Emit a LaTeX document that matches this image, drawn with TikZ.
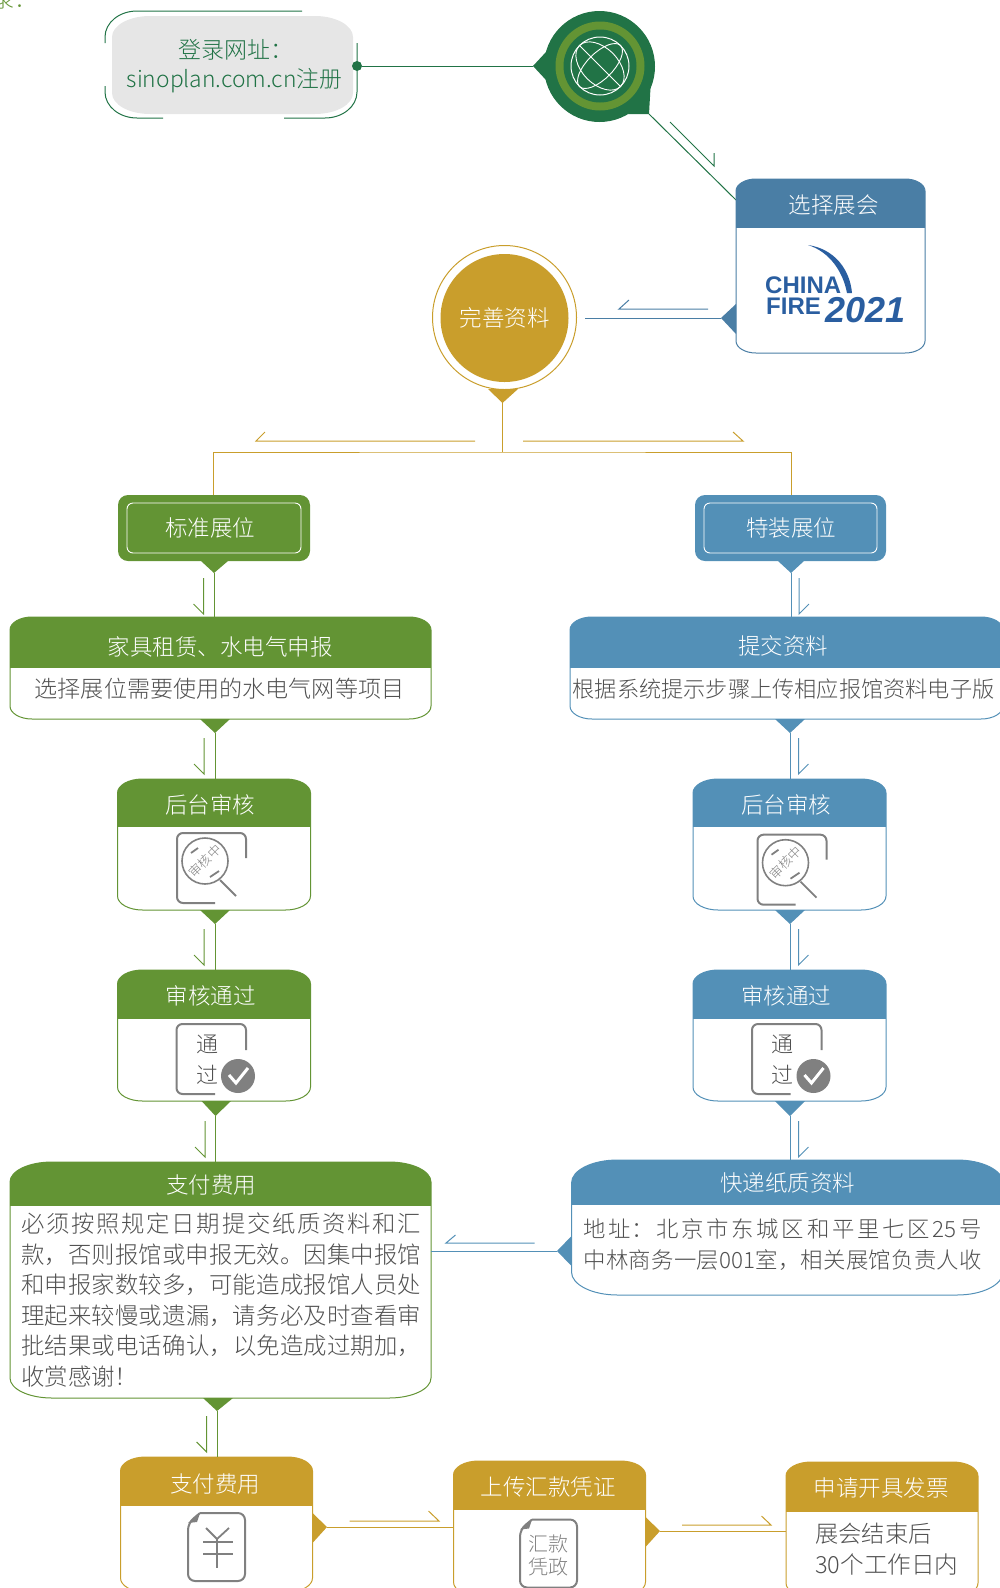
\documentclass[tikz,border=0pt]{standalone}
\usepackage{fontspec}
\setmainfont{Noto Sans CJK SC Light}
\newfontfamily\logofont{Liberation Sans}
\usetikzlibrary{positioning}
\XeTeXlinebreaklocale "zh"
\XeTeXlinebreakskip=0pt plus 2pt
\definecolor{lgreen}{RGB}{99,148,52}
\definecolor{dgreen}{RGB}{33,115,70}
\definecolor{lblue}{RGB}{83,144,183}
\definecolor{sblue}{RGB}{74,126,165}
\definecolor{gold}{RGB}{201,158,44}
\definecolor{boxgrey}{RGB}{230,230,230}
\definecolor{bodygrey}{RGB}{80,80,80}
\definecolor{icongrey}{RGB}{128,128,128}
\definecolor{logoblue}{RGB}{42,94,160}
\tikzset{
  head/.style={text=white,font=\fontsize{22.5}{26}\selectfont,inner sep=0pt},
  body/.style={text=bodygrey,font=\fontsize{22.4}{30.6}\selectfont,inner sep=0pt},
  conn/.style={line width=1pt},
  icon/.style={draw=icongrey,line width=2pt,rounded corners=6pt}
}
% rounded outline with elliptic corners: x0,y0,x1,y1,rx,ry
\newcommand{\roundpath}[6]{(#1,{#2+#6}) arc[start angle=180,end angle=90,x radius=#5pt,y radius=#6pt] -- ({#3-#5},#2) arc[start angle=90,end angle=0,x radius=#5pt,y radius=#6pt] -- (#3,{#4-#6}) arc[start angle=0,end angle=-90,x radius=#5pt,y radius=#6pt] -- ({#1+#5},#4) arc[start angle=-90,end angle=-180,x radius=#5pt,y radius=#6pt] -- cycle}
% card: name,x0,y0,x1,y1,rx,ry,bar,colour
\newcommand{\card}[9]{
  \begin{scope}
    \clip \roundpath{#2}{#3}{#4}{#5}{#6}{#7};
    \fill[#9] (#2,#3) rectangle (#4,#8);
  \end{scope}
  \draw[#9,line width=1pt] \roundpath{#2}{#3}{#4}{#5}{#6}{#7};
  \coordinate (#1-nw) at (#2,#3);
  \coordinate (#1-se) at (#4,#5);
}
\begin{document}
\begin{tikzpicture}[x=1pt,y=-1pt]
  \clip (0,0) rectangle (1000,1588);
  % cut off text at the top
  \node[text=lgreen,font=\fontsize{22}{26}\selectfont,inner sep=0pt,anchor=west] (cutoff) at (-8,0) {录：};
  % login box
  \fill[boxgrey] \roundpath{112}{16}{353}{114}{38}{21};
  \draw[dgreen,line width=1pt] (302,11) -- (137,11) arc[start angle=90,end angle=180,x radius=32pt,y radius=26pt] -- (105,43);
  \draw[dgreen,line width=1pt] (105,86) -- (105,92) arc[start angle=180,end angle=270,x radius=32pt,y radius=26pt] -- (163,118);
  \draw[dgreen,line width=1pt] (284,118) -- (325,118) arc[start angle=-90,end angle=0,x radius=32pt,y radius=26pt] -- (357,43);
  \node[text=dgreen,font=\fontsize{23}{26}\selectfont,inner sep=0pt] (logintop) at (236,50) {登录网址：};
  \node[text=dgreen,font=\fontsize{22.8}{26}\selectfont,inner sep=0pt] (loginurl) at (234.5,81) {sinoplan.com.cn注册};
  \node[circle,fill=dgreen,inner sep=0pt,minimum size=10pt] (logindot) at (357,66) {};
  % globe
  \coordinate (globetip) at (533,66);
  \coordinate (globeout) at (649,114);
  \fill[dgreen] (599.5,66.5) circle(55.5pt);
  \fill[dgreen] (globetip) -- (546,52) -- (546,80) -- cycle;
  \fill[dgreen] (628,114) -- (globeout) -- (650.5,88) -- cycle;
  \fill[lgreen] (600,66) circle(44.5pt);
  \fill[dgreen] (600,66) circle(36.5pt);
  \draw[white,line width=1pt] (600,66) circle(29pt);
  \draw[white,line width=0.9pt,rotate around={45:(600,66)}] (600,66) ellipse(29pt and 13pt);
  \draw[white,line width=0.9pt,rotate around={-45:(600,66)}] (600,66) ellipse(29pt and 18pt);
  \draw[white,line width=0.9pt] (579.5,45.5) -- (620.5,86.5);
  \draw[dgreen,conn] (logindot) -- (globetip);
  \coordinate (selectin) at (736,200);
  \draw[dgreen,conn] (globeout) -- (selectin);
  \draw[dgreen,conn] (670,122) -- (714,166) -- (714,153);
  % select box
  \card{select}{736}{179}{925}{353}{20}{12}{228}{sblue}
  \node[head] (selecttext) at (833.5,205) {选择展会};
  \fill[logoblue] (808,245) .. controls (835,249) and (850,270) .. (852,293) -- (847,293) .. controls (843,272) and (830,252) .. (808,245);
  \node[text=logoblue,font=\logofont\bfseries\fontsize{24}{24}\selectfont,inner sep=0pt,anchor=west] (china) at (765,285) {CHINA};
  \node[text=logoblue,font=\logofont\bfseries\fontsize{24}{24}\selectfont,inner sep=0pt,anchor=west] (fire) at (766,306) {FIRE};
  \node[text=logoblue,font=\logofont\bfseries\itshape\fontsize{36}{36}\selectfont,inner sep=0pt,anchor=west] (year) at (825,310) {2021};
  \coordinate (selecttip) at (721,318);
  \fill[sblue] (736,304) -- (selecttip) -- (736,334) -- cycle;
  \coordinate (goldin) at (585,318);
  \draw[sblue,conn] (selecttip) -- (goldin);
  \draw[sblue,conn] (708,309) -- (619,309) -- (629,300);
  % gold circle
  \draw[gold,line width=1pt] (504.5,317.5) circle(72pt);
  \node[circle,fill=gold,inner sep=0pt,minimum size=128pt,text=white,font=\fontsize{22.5}{26}\selectfont] (prepare) at (504.5,318) {\raisebox{2pt}{完善资料}};
  \coordinate (goldtip) at (502.5,403);
  \fill[gold] (488,389) -- (518,389) -- (goldtip) -- cycle;
  \coordinate (fork) at (502.5,452);
  \coordinate (stdin) at (213.5,495);
  \coordinate (spcin) at (791,495);
  \draw[gold,conn] (goldtip) -- (fork);
  \draw[gold,conn] (stdin) |- (fork) -| (spcin);
  \draw[gold,conn] (475,441) -- (256,441) -- (265,432);
  \draw[gold,conn] (523,441) -- (743,441) -- (733,432);
  % the two start boxes
  \foreach \nm/\xa/\xb/\xt/\col/\txt in {std/118/310/210/lgreen/标准展位,spc/695/886/791/lblue/特装展位}{
    \fill[\col,rounded corners=10pt] (\xa,495) rectangle (\xb,561);
    \draw[white,line width=0.9pt,rounded corners=6pt] (\xa+9,503) rectangle (\xb-9,553);
    \node[head] (\nm) at (\xt,528) {\txt};
  }
  % left column
  \card{furn}{10}{617}{431}{719}{22}{13}{668}{lgreen}
  \node[head] (furntext) at (220,647) {家具租赁、水电气申报};
  \node[body,font=\fontsize{23.1}{30.6}\selectfont] (furnbody) at (219.5,689) {选择展位需要使用的水电气网等项目};
  \card{checka}{117.5}{779}{310.5}{910}{25}{14}{827}{lgreen}
  \node[head] (checkatext) at (210,805) {后台审核};
  \card{passa}{117.5}{970}{310.5}{1101}{25}{14}{1019}{lgreen}
  \node[head] (passatext) at (210.5,996) {审核通过};
  \card{pay}{10}{1162}{431}{1398}{42}{20}{1206}{lgreen}
  \node[head] (paytext) at (211,1185) {支付费用};
  \node[body,text width=400pt,align=justify,anchor=north west,font=\fontsize{23.4}{30.6}\selectfont] (paybody) at (21,1212.5) {必须按照规定日期提交纸质资料和汇款，否则报馆或申报无效。因集中报馆和申报家数较多，可能造成报馆人员处理起来较慢或遗漏，请务必及时查看审批结果或电话确认，以免造成过期加，收赏感谢！};
  % right column
  \card{send}{570}{617}{1003}{719}{22}{13}{668}{lblue}
  \node[head] (sendtext) at (783,646) {提交资料};
  \node[body,font=\fontsize{22.2}{30.6}\selectfont] (sendbody) at (783.5,689) {根据系统提示步骤上传相应报馆资料电子版};
  \card{checkb}{693}{779}{886}{910}{25}{14}{827}{lblue}
  \node[head] (checkbtext) at (786,805) {后台审核};
  \card{passb}{693}{970}{886}{1101}{25}{14}{1019}{lblue}
  \node[head] (passbtext) at (786,996) {审核通过};
  \card{post}{571.5}{1160}{1003}{1295}{46}{23}{1205}{lblue}
  \node[head] (posttext) at (787.5,1183) {快递纸质资料};
  \node[body,text width=398pt,align=justify,anchor=north west,font=\fontsize{22.4}{30.6}\selectfont] (postbody) at (583.5,1218.5) {\parfillskip=0pt 地址：北京市东城区和平里七区25号\par 中林商务一层001室，相关展馆负责人收\par};
  % bottom row
  \card{fee}{120.5}{1457}{312.5}{1592}{25}{14}{1506}{gold}
  \node[head] (feetext) at (215,1484) {支付费用};
  \card{upload}{453.5}{1461}{645.5}{1596}{25}{14}{1510}{gold}
  \node[head] (uploadtext) at (548,1487) {上传汇款凭证};
  \card{invoice}{786}{1462}{978}{1597}{25}{14}{1511.5}{gold}
  \node[head] (invoicetext) at (881,1488) {申请开具发票};
  \node[body,font=\fontsize{23.3}{30.6}\selectfont,anchor=west] (invoicea) at (815,1534) {展会结束后};
  \node[body,font=\fontsize{23.6}{30.6}\selectfont,anchor=west] (invoiceb) at (815,1565) {30个工作日内};
  % notches below the boxes
  \foreach \nm/\xa/\xb/\y/\tx/\ty/\col/\dest in {
    gi/201/228/561/214/573/lgreen/furn-nw,
    gii/200/230/719/215/733/lgreen/checka-nw,
    giii/200/230/910/215/924/lgreen/passa-nw,
    giv/201.5/231/1101/215.5/1116/lgreen/pay-nw,
    gv/203/233/1398/217/1411/lgreen/fee-nw,
    bi/778/804/561/791/573/lblue/send-nw,
    bii/775/805/719/790/733/lblue/checkb-nw,
    biii/775/805/910/790/924/lblue/passb-nw,
    biv/775/805/1101/790/1116/lblue/post-nw}{
    \coordinate (\nm) at (\tx,\ty);
    \fill[\col] (\xa,\y) -- (\xb,\y) -- (\nm) -- cycle;
    \draw[\col,conn] (\nm) -- (\nm |- \dest);
  }
  % small arrows beside the connectors
  \foreach \x/\y in {203.5/578,204/738,204/929,205/1121,206.6/1416}
    \draw[lgreen,conn] (\x,\y) -- ++(0,36) -- ++(-10,-10);
  \foreach \x/\y in {799/578,798.5/738,798.5/929,798.5/1121}
    \draw[lblue,conn] (\x,\y) -- ++(0,36) -- ++(10,-10);
  % side connectors
  \coordinate (posttip) at (557,1251);
  \fill[lblue] (571.5,1236) -- (posttip) -- (571.5,1266) -- cycle;
  \draw[lblue,conn] (posttip) -- (431,1251);
  \draw[lblue,conn] (534.5,1243) -- (446,1243) -- (455.5,1235);
  \coordinate (feetip) at (327,1527);
  \fill[gold] (312.5,1513) -- (feetip) -- (312.5,1543) -- cycle;
  \draw[gold,conn] (feetip) -- (feetip -| upload-nw);
  \draw[gold,conn] (349.5,1521) -- (439,1521) -- (428.5,1511);
  \coordinate (uploadtip) at (660,1531);
  \fill[gold] (645.5,1517) -- (uploadtip) -- (645.5,1547) -- cycle;
  \draw[gold,conn] (uploadtip) -- (uploadtip -| invoice-nw);
  \draw[gold,conn] (682,1525) -- (771,1525) -- (761.5,1516);
  % magnifier icons
  \foreach \nm/\dx/\dy in {magl/0/0,magr/580.5/1.7}{
    \begin{scope}[shift={(\dx,\dy)}]
      \draw[icon] (246,858) -- (246,833) -- (177,833) -- (177,903) -- (215,903);
      \draw[icongrey,line width=1.6pt] (205,861) circle(23pt);
      \draw[icongrey,line width=1.8pt] (220,880) -- (236,896);
      \draw[icongrey,line width=1.8pt] (191,853) -- (198,848);
      \draw[icongrey,line width=1.8pt] (210,877) -- (219,871);
      \node[text=icongrey,font=\fontsize{13}{13}\selectfont,rotate=45,inner sep=0pt] (\nm) at (205,861) {审核中};
    \end{scope}
  }
  % passed icons
  \foreach \nm/\dx in {okl/0,okr/575.5}{
    \begin{scope}[shift={(\dx,0)}]
      \draw[icon] (246,1050) -- (246,1024) -- (176.5,1024) -- (176.5,1094) -- (215,1094);
      \node[body,font=\fontsize{22}{26}\selectfont] (\nm a) at (207,1044) {通};
      \node[body,font=\fontsize{22}{26}\selectfont] (\nm b) at (207,1075) {过};
      \fill[icongrey] (238,1076) circle(17pt);
      \draw[white,line width=3pt] (229,1075) -- (236,1083) -- (248,1068);
    \end{scope}
  }
  % paper icons
  \foreach \dx/\dy in {0/0,332/6.5}{
    \begin{scope}[shift={(\dx,\dy)}]
      \draw[icon,rounded corners=7pt] (200,1513) -- (245,1513) -- (245,1581) -- (188,1581) -- (188,1523) [sharp corners] -- (200,1513);
      \fill[icongrey] (200,1513) -- (188,1523) -- (197,1522) -- cycle;
    \end{scope}
  }
  \draw[icongrey,line width=1.8pt] (206,1528) -- (217,1539) -- (229,1528);
  \draw[icongrey,line width=1.8pt] (203,1542) -- (233,1542);
  \draw[icongrey,line width=1.8pt] (203,1554) -- (233,1554);
  \draw[icongrey,line width=1.8pt] (217,1539) -- (217,1568);
  \node[text=icongrey,font=\fontsize{20}{20}\selectfont,inner sep=0pt] (recta) at (548,1544) {汇款};
  \node[text=icongrey,font=\fontsize{20}{20}\selectfont,inner sep=0pt] (rectb) at (548,1567) {凭政};
\end{tikzpicture}
\end{document}
